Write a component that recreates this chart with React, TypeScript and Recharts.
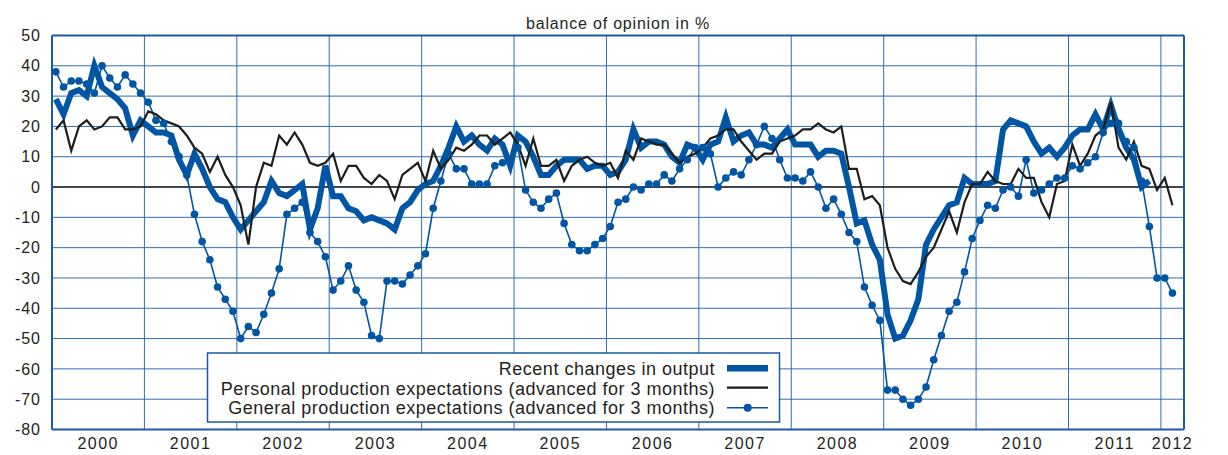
import { CartesianGrid, Line, LineChart, ReferenceLine, XAxis, YAxis } from "recharts"

const years = ["2000", "2001", "2002", "2003", "2004", "2005", "2006", "2007", "2008", "2009", "2010", "2011", "2012"]
const monthsShown = 147 // Jan 2000 .. Mar 2012

// Recent changes in output (monthly, from Jan 2000)
const recentChanges = [
  29, 24, 31, 32, 30, 40, 33, 31, 29, 26, 17, 22,
  20, 18, 18, 17, 9, 4, 11, 6, 0, -4, -5, -10,
  -14, -11, -8, -5, 2, -2, -3, -1, 1, -14, -7, 7,
  -3, -3, -7, -8, -11, -10, -11, -12, -14, -7, -5, -1,
  1, 2, 7, 13, 20, 15, 17, 14, 12, 16, 14, 7,
  17, 15, 10, 4, 4, 7, 9, 9, 9, 6, 7, 7,
  4, 5, 9, 19, 13, 15, 15, 14, 10, 8, 14, 13,
  9, 14, 15, 23, 15, 17, 18, 14, 14, 13, 16, 19,
  14, 14, 14, 10, 12, 12, 11, 0, -12, -11, -19, -24,
  -42, -50, -49, -44, -37, -19, -14, -10, -6, -5, 3, 1,
  1, 1, 2, 19, 22, 21, 20, 15, 11, 13, 10, 13,
  17, 19, 19, 24, 19, 27, 19, 13, 9, 0, 2,
]

// Personal production expectations (advanced for 3 months)
const personalExpectations = [
  19, 22, 12, 20, 22, 19, 20, 23, 23, 19, 19, 20,
  25, 24, 22, 21, 20, 17, 13, 11, 5, 10, 4, 0,
  -6, -19, 0, 8, 7, 17, 14, 18, 14, 8, 7, 8,
  11, 2, 7, 7, 3, 1, 4, 2, -4, 4, 6, 8,
  2, 12, 6, 9, 13, 12, 14, 17, 17, 14, 16, 18,
  14, 7, 16, 7, 7, 9, 2, 7, 9, 10, 8, 7,
  8, 3, 12, 9, 16, 15, 14, 14, 11, 8, 10, 11,
  13, 16, 17, 19, 19, 15, 12, 9, 11, 11, 15, 16,
  17, 19, 19, 21, 19, 18, 20, 6, 6, -4, -3, -6,
  -20, -27, -31, -32, -28, -23, -20, -14, -8, -15, -5, 1,
  1, 5, 2, 1, 1, 6, 3, 3, -5, -10, 1, 2,
  14, 7, 11, 17, 19, 28, 13, 9, 15, 7, 6, -1,
  3, -6,
]

// General production expectations (advanced for 3 months)
const generalExpectations = [
  38, 33, 35, 35, 34, 31, 40, 36, 33, 37, 34, 31,
  28, 22, 21, 15, 10, 4, -9, -18, -24, -33, -37, -41,
  -50, -46, -48, -42, -35, -27, -9, -7, -5, -15, -18, -23,
  -34, -31, -26, -34, -38, -49, -50, -31, -31, -32, -29, -26,
  -22, -7, 2, 11, 6, 6, 1, 1, 1, 7, 8, 9,
  13, -1, -5, -7, -4, -2, -12, -19, -21, -21, -19, -17,
  -13, -5, -4, 0, -1, 1, 1, 4, 2, 6, 9, 13,
  13, 11, 0, 3, 5, 4, 9, 14, 20, 16, 9, 3,
  3, 2, 5, 0, -7, -4, -9, -15, -18, -33, -39, -44,
  -67, -67, -70, -72, -70, -66, -57, -49, -41, -38, -28, -17,
  -11, -6, -7, -1, 0, -3, 9, -2, -1, 1, 3, 3,
  7, 6, 8, 10, 18, 21, 21, 15, 13, 2, -13, -30,
  -30, -35,
]

const yTicks = [50, 40, 30, 20, 10, 0, -10, -20, -30, -40, -50, -60, -70, -80]

const data = generalExpectations.map((g, i) => ({
  t: i + 0.5,
  recent: recentChanges[i],
  personal: personalExpectations[i],
  general: g,
}))

// label in the middle of each year (last one centred on the partial year)
const yearTicks = years.map((_, k) => (k < years.length - 1 ? k * 12 + 6 : (k * 12 + monthsShown) / 2))
const yearBounds = years.slice(1).map((_, k) => (k + 1) * 12)

const BLUE = "#0055a5"
const GRID = "#2f6db6"
const FRAME = "#1a5aa6"
const FONT = "'Liberation Sans', Arial, Helvetica, sans-serif"
const TEXT = "#231f20"

function RightTick(props: any) {
  const { x, y, payload } = props
  return (
    <text x={x + 41} y={y} dy="0.355em" textAnchor="end" fill={TEXT} fontSize={16} letterSpacing={1} fontFamily={FONT}>
      {payload.value}
    </text>
  )
}

export default function App() {
  return (
    <div style={{ position: "absolute", left: 0, top: 0, width: 1228, height: 455, background: "#fff" }}>
      <LineChart width={1228} height={455} data={data} margin={{ top: 35.5, right: 0, left: 0, bottom: 0 }}>
        <CartesianGrid vertical={false} stroke={GRID} strokeWidth={1} />
        <XAxis
          dataKey="t"
          type="number"
          domain={[0, monthsShown]}
          ticks={yearTicks}
          interval={0}
          tickFormatter={(v: number) => years[Math.floor(v / 12)]}
          height={25.5}
          tickSize={0}
          tickMargin={8}
          axisLine={{ stroke: FRAME, strokeWidth: 2 }}
          tick={{ fill: TEXT, fontSize: 16, letterSpacing: 1.5, fontFamily: FONT }}
        />
        <YAxis
          domain={[-80, 50]}
          ticks={yTicks}
          interval={0}
          width={52}
          tickSize={0}
          tickMargin={11}
          axisLine={{ stroke: FRAME, strokeWidth: 2 }}
          tick={{ fill: TEXT, fontSize: 16, letterSpacing: 1, fontFamily: FONT }}
        />
        <YAxis
          yAxisId="right"
          orientation="right"
          domain={[-80, 50]}
          ticks={yTicks}
          interval={0}
          width={44}
          tickSize={0}
          tickMargin={0}
          axisLine={{ stroke: FRAME, strokeWidth: 2 }}
          tick={RightTick}
        />
        {yearBounds.map((m) => (
          <ReferenceLine key={m} x={m} stroke={GRID} strokeWidth={1} />
        ))}
        <ReferenceLine y={50} stroke={FRAME} strokeWidth={2} />
        <ReferenceLine y={0} stroke="#222" strokeWidth={1.5} />
        <Line
          dataKey="recent"
          stroke={BLUE}
          strokeWidth={6}
          dot={false}
          strokeLinejoin="miter"
          isAnimationActive={false}
        />
        <Line
          dataKey="general"
          stroke={BLUE}
          strokeWidth={1.6}
          dot={{ r: 3.8, fill: BLUE, stroke: "none" }}
          isAnimationActive={false}
        />
        <Line dataKey="personal" stroke="#1d1d1b" strokeWidth={2.2} dot={false} isAnimationActive={false} />
      </LineChart>

      <svg
        width={1228}
        height={455}
        style={{ position: "absolute", left: 0, top: 0, pointerEvents: "none" }}
        fontFamily={FONT}
      >
        <text x={618} y={29} textAnchor="middle" fontSize={16} letterSpacing={0.8} fill={TEXT}>
          balance of opinion in %
        </text>
        <rect x={207.5} y={353} width={572} height={69} fill="#fff" stroke={FRAME} strokeWidth={1.5} />
        <g fontSize={18} letterSpacing={0.5} fill={TEXT} textAnchor="end">
          <text x={715} y={375}>Recent changes in output</text>
          <text x={715} y={394.5}>Personal production expectations (advanced for 3 months)</text>
          <text x={715} y={414}>General production expectations (advanced for 3 months)</text>
        </g>
        <line x1={727} x2={768} y1={368.3} y2={368.3} stroke={BLUE} strokeWidth={6.5} />
        <line x1={727} x2={768} y1={387.7} y2={387.7} stroke="#1d1d1b" strokeWidth={2.2} />
        <line x1={727} x2={768} y1={407.7} y2={407.7} stroke={BLUE} strokeWidth={1.6} />
        <circle cx={747.7} cy={407.7} r={4} fill={BLUE} />
      </svg>
    </div>
  )
}
